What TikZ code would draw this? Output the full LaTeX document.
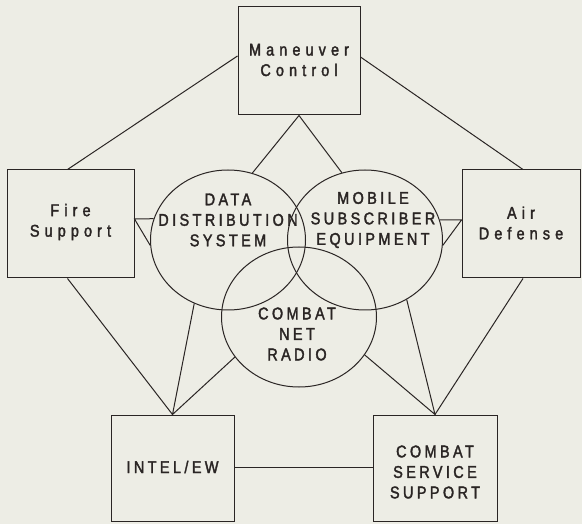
\documentclass[tikz,border=0pt]{standalone}
\usepackage{fontspec}
\setmainfont{Liberation Sans}[FakeStretch=0.85, LetterSpace=20, FakeBold=2]
\newfontfamily\widefont{Liberation Sans}[FakeStretch=0.85, LetterSpace=30, FakeBold=2]
\usetikzlibrary{shapes.geometric}
\definecolor{paper}{RGB}{237,237,229}
\definecolor{ink}{RGB}{42,37,36}
\begin{document}
\begin{tikzpicture}[x=1pt, y=-1pt,
  conn/.style={draw=ink, line width=1pt},
  box/.style={draw=ink, line width=1pt, rectangle, inner sep=0pt},
  ring/.style={draw=ink, line width=1pt, ellipse, inner sep=0pt,
               minimum width=155pt, minimum height=140pt},
  lab/.style={text=ink, align=center, inner sep=0pt,
              font=\fontsize{17}{20.5}\selectfont},
  mixlab/.style={lab, font=\widefont\fontsize{17}{20.5}\selectfont}]
  \fill[paper] (0,0) rectangle (582,524);
  \useasboundingbox (0,0) rectangle (582,524);

  % functional area boxes
  \node[box, minimum width=122pt, minimum height=108pt] (mc)  at (299,61)    {};
  \node[box, minimum width=127pt, minimum height=108pt] (fs)  at (70.5,224)  {};
  \node[box, minimum width=118pt, minimum height=108pt] (ad)  at (521,224)   {};
  \node[box, minimum width=123pt, minimum height=106pt] (ie)  at (172.5,468) {};
  \node[box, minimum width=124pt, minimum height=106pt] (css) at (435,468)   {};

  \node[mixlab] (mct) at (299,60)    {Maneuver\\Control};
  \node[mixlab] (fst) at (70.5,222)  {Fire\\Support};
  \node[mixlab] (adt) at (521,223)   {Air\\Defense};
  \node[lab] (iet)    at (172.5,467) {INTEL/EW};
  \node[lab] (csst)   at (435,472)   {COMBAT\\SERVICE\\SUPPORT};

  % communication systems
  \node[ring] (dds) at (228,240) {};
  \node[ring] (mse) at (365,240) {};
  \node[ring] (cnr) at (299,317) {};

  \node[lab] (ddst) at (228,220) {DATA\\DISTRIBUTION\\SYSTEM};
  \node[lab] (mset) at (373,220) {MOBILE\\SUBSCRIBER\\EQUIPMENT};
  \node[lab] (cnrt) at (297,334) {COMBAT\\NET\\RADIO};

  % outer pentagon
  \draw[conn] ([yshift=5pt]mc.west) -- ([xshift=-3pt]fs.north);
  \draw[conn] ([yshift=4pt]mc.east) -- ([xshift=2pt]ad.north);
  \draw[conn] ([xshift=-3pt]fs.south) -- (ie.north);
  \draw[conn] ([xshift=2pt]ad.south) -- (css.north);
  \draw[conn] ([yshift=1pt]ie.east) -- ([yshift=1pt]css.west);

  % links into the systems
  \draw[conn] (dds.70) -- (mc.south) -- (mse.109);
  \draw[conn] (dds.164) -- ([yshift=5pt]fs.east) -- (dds.184);
  \draw[conn] (mse.15) -- ([yshift=4pt]ad.west) -- (mse.-4);
  \draw[conn] (dds.242) -- (ie.north) -- (cnr.212);
  \draw[conn] (mse.305) -- (css.north) -- (cnr.330);
\end{tikzpicture}
\end{document}
